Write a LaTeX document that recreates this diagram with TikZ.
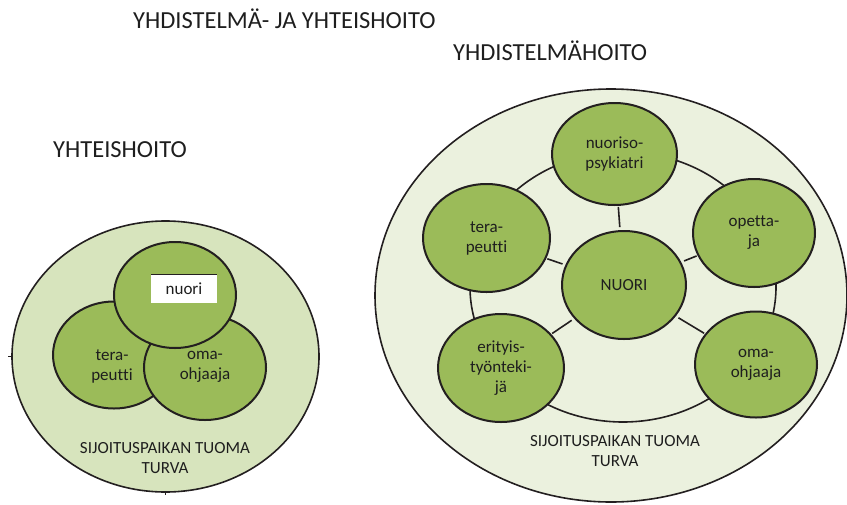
\documentclass[tikz,border=0pt]{standalone}
\usepackage{fontspec}
\setmainfont[Ligatures=CommonOff]{Carlito}
\usetikzlibrary{shapes.geometric}
\definecolor{ogreen}{HTML}{9BBB59}
\definecolor{lgreenA}{HTML}{D7E4BD}
\definecolor{lgreenB}{HTML}{EBF1DE}
\definecolor{edgec}{HTML}{231F20}
\definecolor{txtc}{HTML}{1E1E1E}
\tikzset{
  blob/.style={ellipse, draw=edgec, line width=2pt, fill=ogreen, inner sep=0pt,
    align=center, text=txtc, font=\fontsize{17}{20}\selectfont},
  outerell/.style={ellipse, draw=edgec, line width=1.6pt, inner sep=0pt},
  lbl/.style={align=center, text=txtc, inner sep=0pt, font=\fontsize{17}{20}\selectfont},
  title/.style={anchor=base west, inner sep=0pt, text=txtc, font=\fontsize{24.5}{28}\selectfont},
  spoke/.style={draw=edgec, line width=1.6pt, shorten <=3pt, shorten >=1pt}
}
\begin{document}
\begin{tikzpicture}[x=1pt,y=-1pt]
\useasboundingbox (0,0) rectangle (847,504);
% titles
\node[title] (t1) at (133,28) {YHDISTELMÄ- JA YHTEISHOITO};
\node[title] (t2) at (453,60) {YHDISTELMÄHOITO};
\node[title] (t3) at (53,157) {YHTEISHOITO};

% left group
\node[outerell, fill=lgreenA, minimum width=307pt, minimum height=271pt] (outL) at (165.5,356.5) {};
\draw[edgec, line width=0.8pt] (outL.west) ++(-3,0) coordinate (tkA) -- ++(5,0) coordinate (tkB);
\draw[edgec, line width=0.8pt] (outL.south) ++(0,-2) coordinate (tkC) -- ++(0,4) coordinate (tkD);
\node[blob, minimum width=122pt, minimum height=107pt] (terL) at (114,355) {};
\node[blob, minimum width=122pt, minimum height=105pt] (omaL) at (205,367.5) {};
\node[blob, minimum width=122pt, minimum height=106pt] (nuoL) at (175,295) {};
\fill[white] (151,274) rectangle (217,303);
\draw[edgec, line width=0.8pt] (151,274.4) coordinate (bxA) -- (217,274.4) coordinate (bxB);
\node[lbl] (nuoLt) at (184,289) {nuori};
\node[lbl] (terLt) at (112,366) {tera-\\peutti};
\node[lbl] (omaLt) at (205,367) {oma-\\ohjaaja};
\node[lbl] (sijL) at (165,458) {SIJOITUSPAIKAN TUOMA\\TURVA};

% right group
\node[outerell, fill=lgreenB, minimum width=472pt, minimum height=413pt] (outR) at (611,295.5) {};
\node[outerell, minimum width=306pt, minimum height=270pt] (ring) at (623,287) {};
\node[blob, minimum width=124pt, minimum height=108pt] (nuoR) at (624,285) {NUORI};
\node[blob, minimum width=125pt, minimum height=102pt] (psyk) at (614.5,154) {nuoriso-\\psykiatri};
\node[blob, minimum width=127pt, minimum height=108pt] (terR) at (486.5,238) {tera-\\peutti};
\node[blob, minimum width=122pt, minimum height=108pt] (opet) at (754,233) {opetta-\\ja};
\node[blob, minimum width=126pt, minimum height=108pt] (erit) at (501,368) {erityis-\\työnteki-\\jä};
\node[blob, minimum width=122pt, minimum height=106pt] (omaR) at (756,364.5) {oma-\\ohjaaja};
\draw[spoke] (nuoR) -- (psyk);
\draw[spoke] (nuoR) -- (terR);
\draw[spoke] (nuoR) -- (opet);
\draw[spoke] (nuoR) -- (erit);
\draw[spoke] (nuoR) -- (omaR);
\node[lbl] (sijR) at (615,451) {SIJOITUSPAIKAN TUOMA\\TURVA};
\end{tikzpicture}
\end{document}
